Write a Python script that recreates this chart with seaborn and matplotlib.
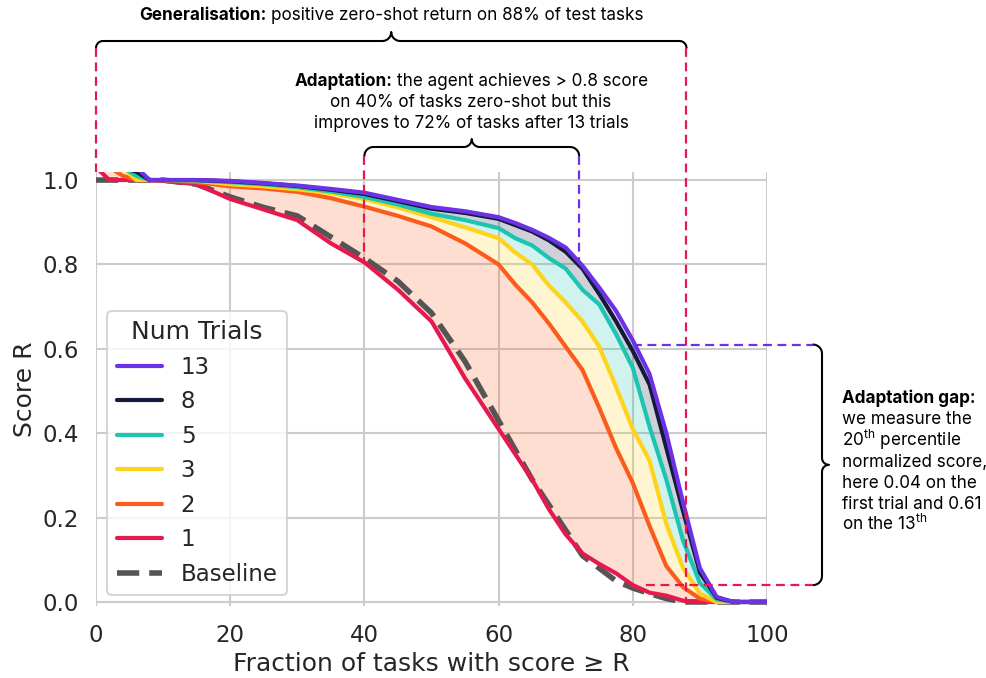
import numpy as np
import pandas as pd
import matplotlib
matplotlib.use("Agg")
import matplotlib.pyplot as plt
import seaborn as sns
from matplotlib.lines import Line2D
from matplotlib.transforms import IdentityTransform

# ---------------- data ----------------
frac = [0, 2, 4, 6, 8, 10, 15, 20, 25, 30, 35, 40, 45, 50, 55, 60, 62.5, 65, 67.5,
        70, 72.5, 75, 77.5, 80, 82.5, 85, 87.5, 90, 92.5, 95, 100]

score_t1 = [1.03, 1.0, 1.0, 1.0, 0.999, 0.998, 0.99, 0.955, 0.93, 0.905, 0.85, 0.805,
            0.74, 0.665, 0.53, 0.41, 0.35, 0.29, 0.22, 0.16, 0.115, 0.09, 0.068, 0.04,
            0.022, 0.015, 0.003, 0.0, 0.0, 0.0, 0.0]
score_t2 = [1.03, 1.03, 1.01, 1.0, 1.0, 1.0, 0.995, 0.985, 0.98, 0.972, 0.957, 0.937,
            0.915, 0.89, 0.85, 0.80, 0.752, 0.71, 0.66, 0.605, 0.55, 0.46, 0.365, 0.282,
            0.18, 0.085, 0.035, 0.008, 0.0, 0.0, 0.0]
score_t3 = [1.03, 1.03, 1.03, 1.0, 1.0, 1.0, 0.998, 0.99, 0.985, 0.978, 0.969, 0.955,
            0.935, 0.912, 0.888, 0.862, 0.828, 0.80, 0.75, 0.71, 0.665, 0.605, 0.51, 0.41,
            0.335, 0.185, 0.08, 0.02, 0.0, 0.0, 0.0]
score_t5 = [1.03, 1.03, 1.03, 1.01, 1.0, 1.0, 0.999, 0.995, 0.99, 0.983, 0.973, 0.96,
            0.942, 0.92, 0.905, 0.886, 0.862, 0.845, 0.815, 0.79, 0.74, 0.705, 0.635,
            0.555, 0.415, 0.29, 0.145, 0.045, 0.006, 0.0, 0.0]
score_t8 = [1.03, 1.03, 1.03, 1.02, 1.0, 1.0, 1.0, 0.997, 0.992, 0.986, 0.977, 0.967,
            0.95, 0.932, 0.922, 0.908, 0.893, 0.878, 0.857, 0.83, 0.79, 0.73, 0.665,
            0.595, 0.515, 0.365, 0.215, 0.07, 0.01, 0.0, 0.0]
score_t13 = [1.03, 1.03, 1.03, 1.03, 1.0, 1.0, 1.0, 0.998, 0.993, 0.987, 0.979, 0.97,
             0.953, 0.936, 0.926, 0.912, 0.898, 0.882, 0.863, 0.84, 0.797, 0.745, 0.69,
             0.62, 0.54, 0.40, 0.235, 0.08, 0.012, 0.0, 0.0]
score_baseline = [1.0, 1.0, 1.0, 1.0, 1.0, 1.0, 0.99, 0.96, 0.935, 0.915, 0.865, 0.815,
                  0.76, 0.685, 0.57, 0.43, 0.36, 0.29, 0.23, 0.17, 0.11, 0.08, 0.05,
                  0.033, 0.02, 0.008, 0.0, 0.0, 0.0, 0.0, 0.0]

trial_labels = ["1", "2", "3", "5", "8", "13"]
trial_scores = [score_t1, score_t2, score_t3, score_t5, score_t8, score_t13]
trial_colors = ["#e6194f", "#fb5c1c", "#ffd21c", "#1cc4b2", "#141a3c", "#6c32e6"]
baseline_color = "#555555"

# annotation values
gen_frac = 88          # positive zero-shot return on 88% of tasks
zs_frac = 40           # >0.8 zero-shot on 40%
adapt_frac = 72        # >0.8 after 13 trials on 72%
adapt_level = 0.8
pct_frac = 80          # 20th percentile
gap_first = 0.04
gap_last = 0.61
gap_first_start = 82

xticks = [0, 20, 40, 60, 80, 100]
yticks = [0.0, 0.2, 0.4, 0.6, 0.8, 1.0]

# ---------------- style ----------------
sns.set_theme(style="whitegrid", context="talk")
plt.rcParams["font.family"] = ["DejaVu Sans"]
ANN_FONT = "Inter"
ANN_SIZE = 12.3
plt.rcParams["mathtext.fontset"] = "custom"
plt.rcParams["mathtext.rm"] = ANN_FONT
plt.rcParams["mathtext.bf"] = ANN_FONT + ":bold"
plt.rcParams["mathtext.it"] = ANN_FONT + ":italic"

W, H = 987, 678
fig = plt.figure(figsize=(W / 100, H / 100), dpi=100)
ax = fig.add_axes([96 / W, 1 - 606.2 / H, 671 / W, 434.6 / H])

# long-form data for seaborn
rows = []
for lab, sc in zip(trial_labels, trial_scores):
    for xv, yv in zip(frac, sc):
        rows.append({"frac": xv, "score": yv, "trials": lab})
df = pd.DataFrame(rows)

# fills between consecutive trial curves
for i in range(1, len(trial_scores)):
    ax.fill_between(frac, trial_scores[i - 1], trial_scores[i],
                    color=trial_colors[i], alpha=0.2, lw=0, zorder=1)

sns.lineplot(x=frac, y=score_baseline, ax=ax, color=baseline_color, lw=4,
             linestyle=(0, (4, 1.8)), zorder=2, legend=False)
sns.lineplot(data=df, x="frac", y="score", hue="trials", hue_order=trial_labels,
             palette=dict(zip(trial_labels, trial_colors)), estimator=None,
             sort=False, lw=3, ax=ax, legend=False, zorder=3)

ax.set_xlim(0, 100)
ax.set_ylim(-0.01, 1.02)
ax.set_xticks(xticks)
ax.set_yticks(yticks)
ax.set_xlabel("Fraction of tasks with score \u2265 R")
ax.set_ylabel("Score R")
sns.despine(ax=ax, left=True, bottom=True)

handles = []
labels = []
for lab, col in reversed(list(zip(trial_labels, trial_colors))):
    handles.append(Line2D([0], [0], color=col, lw=3))
    labels.append(lab)
handles.append(Line2D([0], [0], color=baseline_color, lw=4, linestyle=(0, (4, 1.8))))
labels.append("Baseline")
ax.legend(handles, labels, title="Num Trials", loc="lower left")

# ---------------- annotations ----------------
fig.canvas.draw()
renderer = fig.canvas.get_renderer()
idt = IdentityTransform()


def dx(x):
    return ax.transData.transform((x, 0))[0]


def dy(y):
    return ax.transData.transform((0, y))[1]


def brace_local(L, r, c, n=20):
    us, vs = [], []
    t = np.linspace(np.pi, np.pi / 2, n)
    us += list(r + r * np.cos(t)); vs += list(-r + r * np.sin(t))
    t = np.linspace(-np.pi / 2, 0, n)
    us += list(L / 2 - c + c * np.cos(t)); vs += list(c + c * np.sin(t))
    t = np.linspace(np.pi, 1.5 * np.pi, n)
    us += list(L / 2 + c + c * np.cos(t)); vs += list(c + c * np.sin(t))
    t = np.linspace(np.pi / 2, 0, n)
    us += list(L - r + r * np.cos(t)); vs += list(-r + r * np.sin(t))
    return np.array(us), np.array(vs)


def hbrace(x0, x1, yh, r, c):
    u, v = brace_local(x1 - x0, r, c)
    fig.add_artist(Line2D(x0 + u, yh + v, transform=idt, color="black", lw=1.5,
                          clip_on=False, solid_capstyle="round"))


def vbrace(xv, ytop, ybot, r, c):
    u, v = brace_local(ytop - ybot, r, c)
    fig.add_artist(Line2D(xv + v, ytop - u, transform=idt, color="black", lw=1.5,
                          clip_on=False, solid_capstyle="round"))


def dline(xs, ys, col):
    fig.add_artist(Line2D(xs, ys, transform=idt, color=col, lw=1.6,
                          linestyle=(0, (4, 2.5)), clip_on=False, zorder=5))


red = trial_colors[0]
purple = trial_colors[-1]

# top brace: generalisation
top_h = H - 41
hbrace(dx(0), dx(gen_frac), top_h, 7, 9)
dline([dx(0), dx(0)], [top_h - 7, dy(1.02)], red)
dline([dx(gen_frac), dx(gen_frac)], [top_h - 7, dy(0)], red)

# middle brace: adaptation
mid_h = H - 147
hbrace(dx(zs_frac), dx(adapt_frac), mid_h, 9, 8)
dline([dx(zs_frac), dx(zs_frac)], [mid_h - 9, dy(adapt_level)], red)
dline([dx(adapt_frac), dx(adapt_frac)], [mid_h - 9, dy(adapt_level)], purple)

# right brace: adaptation gap
xv = 822
vbrace(xv, dy(gap_last), dy(gap_first), 9, 7)
dline([dx(pct_frac), xv - 9], [dy(gap_last), dy(gap_last)], purple)
dline([dx(gap_first_start), xv - 9], [dy(gap_first), dy(gap_first)], red)


def mk(s, weight="normal"):
    return fig.text(0, 0, s, ha="left", va="baseline", fontsize=ANN_SIZE,
                    family=ANN_FONT, fontweight=weight, color="black")


def width(t):
    return t.get_window_extent(renderer).width


sp_a = mk("n n"); sp_b = mk("nn")
SPACE = width(sp_a) - width(sp_b)
sp_a.remove(); sp_b.remove()


def ptext(x, ytop, parts, ha="center"):
    """parts: list of (string, weight) drawn side by side with a space between."""
    texts = [mk(s, w) for s, w in parts]
    widths = [width(t) for t in texts]
    total = sum(widths) + SPACE * (len(texts) - 1)
    x0 = x - total / 2 if ha == "center" else x
    yd = H - ytop
    for t, wdt in zip(texts, widths):
        t.set_position((x0 / W, yd / H))
        x0 += wdt + SPACE


ptext(391, 20, [("Generalisation:", "bold"),
                ("positive zero-shot return on 88% of test tasks", "normal")])
ptext(471, 86, [("Adaptation:", "bold"), ("the agent achieves > 0.8 score", "normal")])
ptext(471, 107, [("on 40% of tasks zero-shot but this", "normal")])
ptext(471, 128, [("improves to 72% of tasks after 13 trials", "normal")])

rx = 842
right_lines = [[("Adaptation gap:", "bold")],
               [("we measure the", "normal")],
               [(r"20$^{\mathrm{th}}$ percentile", "normal")],
               [("normalized score,", "normal")],
               [("here 0.04 on the", "normal")],
               [("first trial and 0.61", "normal")],
               [(r"on the 13$^{\mathrm{th}}$", "normal")]]
for i, parts in enumerate(right_lines):
    ptext(rx, 403 + 21.25 * i, parts, ha="left")

fig.savefig("out.png", dpi=100)
